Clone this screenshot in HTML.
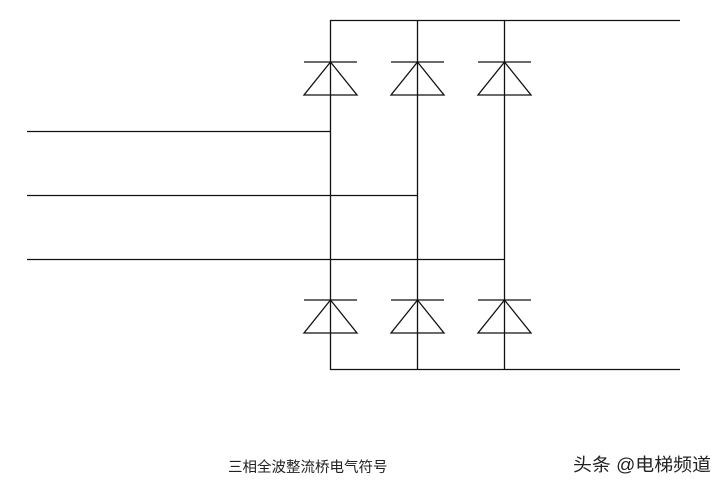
<!DOCTYPE html>
<html><head><meta charset="utf-8"><style>
html,body{margin:0;padding:0;background:#fff;width:726px;height:488px;overflow:hidden}
svg{display:block}
</style></head><body>
<svg width="726" height="488" xmlns="http://www.w3.org/2000/svg">
<g stroke="#111" stroke-width="1.3" fill="none">
<line x1="330" y1="20.5" x2="680" y2="20.5"/>
<line x1="330" y1="369.5" x2="680" y2="369.5"/>
<line x1="330.5" y1="20" x2="330.5" y2="370"/>
<line x1="417.5" y1="20" x2="417.5" y2="370"/>
<line x1="504.5" y1="20" x2="504.5" y2="370"/>
<line x1="27" y1="131.5" x2="330" y2="131.5"/>
<line x1="27" y1="195.5" x2="417" y2="195.5"/>
<line x1="27" y1="259.5" x2="504" y2="259.5"/>
<g id="d">
<line x1="304" y1="62" x2="357" y2="62"/>
<polygon points="330.5,62 304,95 357,95"/>
</g>
<use href="#d" x="87"/>
<use href="#d" x="174"/>
<use href="#d" y="238"/>
<use href="#d" x="87" y="238"/>
<use href="#d" x="174" y="238"/>
</g>
<text x="228" y="472" font-family="'Liberation Sans','Noto Sans CJK SC',sans-serif" font-size="14.5" fill="#222">三相全波整流桥电气符号</text>
<text x="573" y="471" font-family="'Liberation Sans','Noto Sans CJK SC',sans-serif" font-size="18" fill="#222" textLength="138" lengthAdjust="spacingAndGlyphs">头条 @电梯频道</text>
</svg>
</body></html>
